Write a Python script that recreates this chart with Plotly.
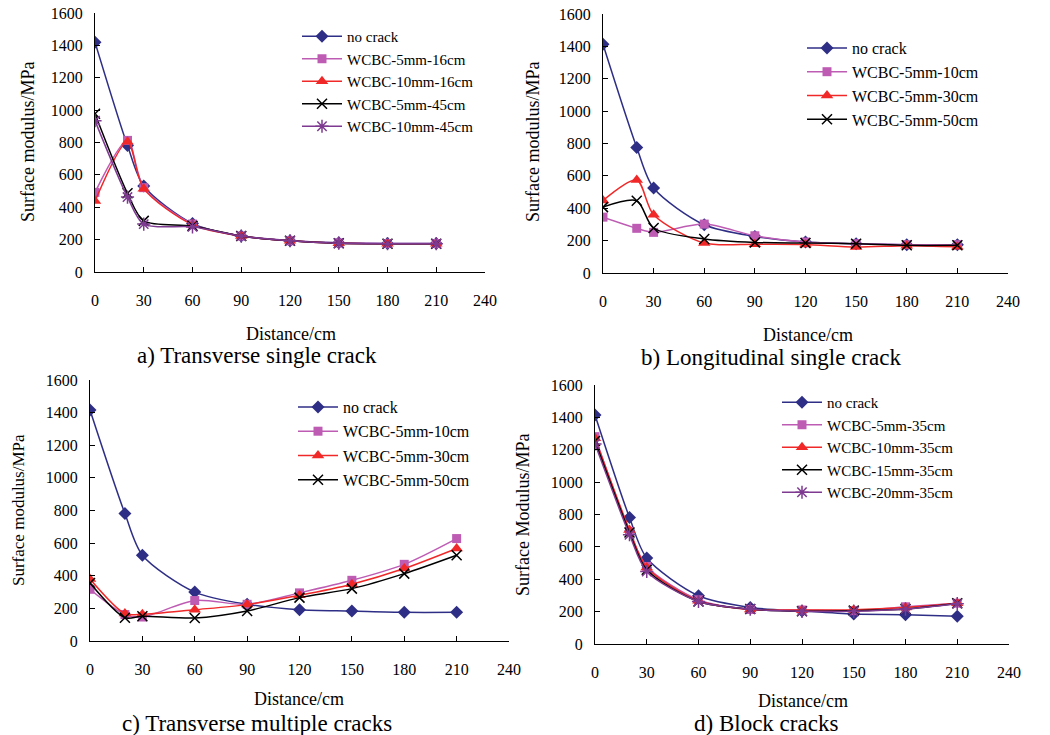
import plotly.graph_objects as go

W, H = 1050, 735
distance = [0, 20, 30, 60, 90, 120, 150, 180, 210]
x_ticks = [0, 30, 60, 90, 120, 150, 180, 210, 240]
y_ticks = [0, 200, 400, 600, 800, 1000, 1200, 1400, 1600]

# a) Transverse single crack
a_names = ["no crack", "WCBC-5mm-16cm", "WCBC-10mm-16cm", "WCBC-5mm-45cm", "WCBC-10mm-45cm"]
a_no_crack = [1420, 781, 531, 299, 222, 193, 181, 176, 176]
a_5mm_16 = [492, 813, 521, 296, 222, 193, 180, 176, 176]
a_10mm_16 = [438, 805, 515, 292, 222, 193, 178, 175, 175]
a_5mm_45 = [978, 486, 316, 285, 222, 193, 178, 175, 175]
a_10mm_45 = [935, 463, 296, 279, 222, 193, 178, 175, 175]

# b) Longitudinal single crack
b_names = ["no crack", "WCBC-5mm-10cm", "WCBC-5mm-30cm", "WCBC-5mm-50cm"]
b_no_crack = [1413, 776, 525, 298, 226, 191, 181, 175, 175]
b_5mm_10 = [345, 276, 251, 302, 230, 191, 181, 175, 175]
b_5mm_30 = [448, 574, 360, 185, 178, 176, 160, 169, 162]
b_5mm_50 = [407, 446, 278, 210, 189, 185, 181, 171, 171]

# c) Transverse multiple cracks
c_names = ["no crack", "WCBC-5mm-10cm", "WCBC-5mm-30cm", "WCBC-5mm-50cm"]
c_no_crack = [1416, 781, 526, 300, 225, 192, 184, 176, 176]
c_5mm_10 = [317, 162, 147, 248, 225, 295, 372, 470, 628]
c_5mm_30 = [380, 168, 164, 192, 223, 280, 348, 444, 567]
c_5mm_50 = [355, 143, 152, 141, 184, 266, 321, 413, 526]

# d) Block cracks
d_names = ["no crack", "WCBC-5mm-35cm", "WCBC-10mm-35cm", "WCBC-15mm-35cm", "WCBC-20mm-35cm"]
d_no_crack = [1415, 781, 531, 298, 226, 204, 185, 181, 172]
d_5mm_35 = [1281, 695, 479, 273, 213, 210, 206, 230, 252]
d_10mm_35 = [1271, 705, 473, 267, 213, 210, 212, 226, 252]
d_15mm_35 = [1254, 689, 459, 263, 216, 202, 206, 216, 252]
d_20mm_35 = [1236, 675, 448, 263, 216, 202, 202, 216, 249]

FONT = "Liberation Serif"
NAVY = "#2E2E86"
PINK = "#BE5CB4"
RED = "#F02828"
BLACK = "#000000"
PURPLE = "#7E3A90"

styles = {
    "navy": dict(color=NAVY, symbol="diamond", size=10),
    "pink": dict(color=PINK, symbol="square", size=9),
    "red": dict(color=RED, symbol="triangle-up", size=11),
    "black": dict(color=BLACK, symbol="x-thin", size=10),
    "purple": dict(color=PURPLE, symbol="asterisk", size=11),
}

fig = go.Figure()

def px_x(p):
    return p / W

def px_y(p):
    return 1 - p / H

panels = [
    # (xaxis id, yaxis id, x0px, x1px, ytop px (1600), ybottom px (0), legend id)
    ("x", "y", 95, 485, 13, 272, "legend"),
    ("x2", "y2", 603, 1008, 14, 273, "legend2"),
    ("x3", "y3", 90, 509, 380, 641, "legend3"),
    ("x4", "y4", 595, 1009, 385, 644, "legend4"),
]

series = [
    [(a_names[0], a_no_crack, "navy"), (a_names[1], a_5mm_16, "pink"), (a_names[2], a_10mm_16, "red"),
     (a_names[3], a_5mm_45, "black"), (a_names[4], a_10mm_45, "purple")],
    [(b_names[0], b_no_crack, "navy"), (b_names[1], b_5mm_10, "pink"), (b_names[2], b_5mm_30, "red"),
     (b_names[3], b_5mm_50, "black")],
    [(c_names[0], c_no_crack, "navy"), (c_names[1], c_5mm_10, "pink"), (c_names[2], c_5mm_30, "red"),
     (c_names[3], c_5mm_50, "black")],
    [(d_names[0], d_no_crack, "navy"), (d_names[1], d_5mm_35, "pink"), (d_names[2], d_10mm_35, "red"),
     (d_names[3], d_15mm_35, "black"), (d_names[4], d_20mm_35, "purple")],
]

for pi, (panel, ser) in enumerate(zip(panels, series)):
    xa, ya, x0, x1, yt, yb, leg = panel
    for si, (name, vals, st) in enumerate(ser):
        s = styles[st]
        marker = dict(color=s["color"], symbol=s["symbol"], size=s["size"],
                      line=dict(color=s["color"], width=1.5 if st in ("black", "purple") else 0))
        fig.add_trace(go.Scatter(
            x=distance, y=vals, name=name, mode="lines+markers",
            line=dict(color=s["color"], width=1.5, shape="spline", smoothing=0.8),
            marker=marker, xaxis=xa, yaxis=ya, legend=leg,
            legendgroup=f"{pi}-{si}",
        ))

axis_common = dict(showgrid=False, zeroline=False, showline=True, linecolor="black", linewidth=1,
                   ticks="inside", ticklen=5, tickcolor="black", tickwidth=1, automargin=False,
                   tickfont=dict(family=FONT, size=16, color="black"))

layout = dict(template="none", width=W, height=H, margin=dict(l=0, r=0, t=0, b=0, pad=0),
              paper_bgcolor="white", plot_bgcolor="white", showlegend=True)

for i, (xa, ya, x0, x1, yt, yb, leg) in enumerate(panels):
    xk = "xaxis" if xa == "x" else "xaxis" + xa[1:]
    yk = "yaxis" if ya == "y" else "yaxis" + ya[1:]
    layout[xk] = dict(axis_common, domain=[px_x(x0), px_x(x1)], range=[0, 240],
                      tickmode="array", tickvals=x_ticks, anchor=ya, ticklabelstandoff=14)
    layout[yk] = dict(axis_common, domain=[px_y(yb), px_y(yt)], range=[0, 1600],
                      tickmode="array", tickvals=y_ticks, anchor=xa, ticklabelstandoff=8)

# (left px, top px, font size, group gap)
legend_pos = [(297, 20, 15, 0), (802, 31, 16, 0), (293, 390, 16, 0.5), (777, 386, 15, 0)]
for i, (lx, ly, fs, gap) in enumerate(legend_pos):
    key = "legend" if i == 0 else f"legend{i+1}"
    layout[key] = dict(x=px_x(lx), y=px_y(ly), xanchor="left", yanchor="top",
                       bgcolor="rgba(0,0,0,0)", font=dict(family=FONT, size=fs, color="black"),
                       traceorder="grouped", tracegroupgap=gap, itemwidth=40)

fig.update_layout(**layout)

ylabels = [("Surface modulus/MPa", 28, 142, 18), ("Surface modulus/MPa", 533, 142, 18),
           ("Surface modulus/MPa", 18, 510, 17), ("Surface Modulus/MPa", 523, 515, 18)]
for t, x, y, s in ylabels:
    fig.add_annotation(text=t, x=px_x(x), y=px_y(y), xref="paper", yref="paper", showarrow=False,
                       xanchor="center", yanchor="middle",
                       textangle=-90, font=dict(family=FONT, size=s, color="black"))

xlabels = [("Distance/cm", 291, 334), ("Distance/cm", 808, 335),
           ("Distance/cm", 299, 699), ("Distance/cm", 803, 701)]
for t, x, y in xlabels:
    fig.add_annotation(text=t, x=px_x(x), y=px_y(y), xref="paper", yref="paper", showarrow=False,
                       xanchor="center", yanchor="middle",
                       font=dict(family=FONT, size=18, color="black"))

captions = [("a) Transverse single crack", 257, 356), ("b) Longitudinal single crack", 771, 357),
            ("c) Transverse multiple cracks", 257, 723), ("d) Block cracks", 766, 723)]
for t, x, y in captions:
    fig.add_annotation(text=t, x=px_x(x), y=px_y(y), xref="paper", yref="paper", showarrow=False,
                       xanchor="center", yanchor="middle",
                       font=dict(family=FONT, size=23, color="black"))

fig.write_html("out.html", config={"displayModeBar": False},
               post_script="document.body.style.margin='0px';")
